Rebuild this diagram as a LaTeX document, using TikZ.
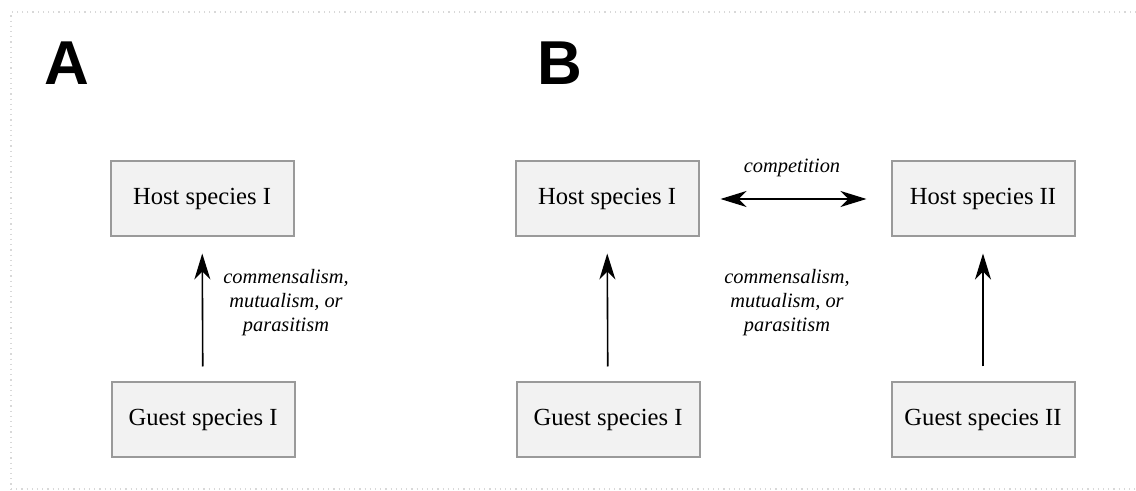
\documentclass[tikz,border=0pt]{standalone}
\usepackage{fontspec}
\setmainfont{Liberation Serif}
\newfontfamily\panelfont{Liberation Sans}
\usetikzlibrary{arrows.meta}

\definecolor{boxfill}{HTML}{F2F2F2}
\definecolor{boxline}{HTML}{9A9A9A}
\definecolor{frameline}{HTML}{D8D8D8}

\tikzset{
  species/.style={draw=boxline, fill=boxfill, line width=1pt,
                  minimum width=91.5pt, minimum height=37.5pt,
                  inner sep=0pt, font=\fontsize{12.3}{14}\selectfont},
  relation/.style={align=center, font=\fontsize{10.2}{12}\selectfont\itshape},
  panel/.style={font=\fontsize{31}{31}\selectfont\panelfont\bfseries},
  link/.style={line width=0.8pt, -{Stealth[length=13pt,width=8pt,inset=4pt]}}
}

\begin{document}
\begin{tikzpicture}[x=0.5pt, y=-0.5pt]
\useasboundingbox (0,0) rectangle (1136,491);
% frame of the screenshot
\draw[frameline, dotted, line width=0.6pt] (1136,12) -- (11,12) -- (11,491);
\draw[frameline, dotted, line width=0.6pt] (11,489) -- (1136,489);

% panel A
\node[panel] (labA) at (67,63) {A};
\node[species] (hostA) at (202,199) {Host species I};
\node[species] (guestA) at (203,420) {Guest species I};
\draw[link, shorten <=7.5pt, shorten >=8pt] (guestA) -- (hostA);
\node[relation] (relA) at (286,303) {commensalism,\\mutualism, or\\parasitism};

% panel B
\node[panel] (labB) at (560,63) {B};
\node[species] (hostBi) at (607,199) {Host species I};
\node[species] (hostBii) at (983,199) {Host species II};
\node[species] (guestBi) at (608,420) {Guest species I};
\node[species] (guestBii) at (983,420) {Guest species II};
\draw[link, shorten <=7.5pt, shorten >=8pt] (guestBi) -- (hostBi);
\draw[link, shorten <=7.5pt, shorten >=8pt] (guestBii) -- (hostBii);
\draw[link, {Stealth[length=13pt,width=8pt,inset=4pt]}-{Stealth[length=13pt,width=8pt,inset=4pt]},
      shorten <=10.5pt, shorten >=12pt] (hostBi) -- (hostBii);
\node[relation] (comp) at (792,168) {competition};
\node[relation] (relB) at (787,303) {commensalism,\\mutualism, or\\parasitism};
\end{tikzpicture}
\end{document}
